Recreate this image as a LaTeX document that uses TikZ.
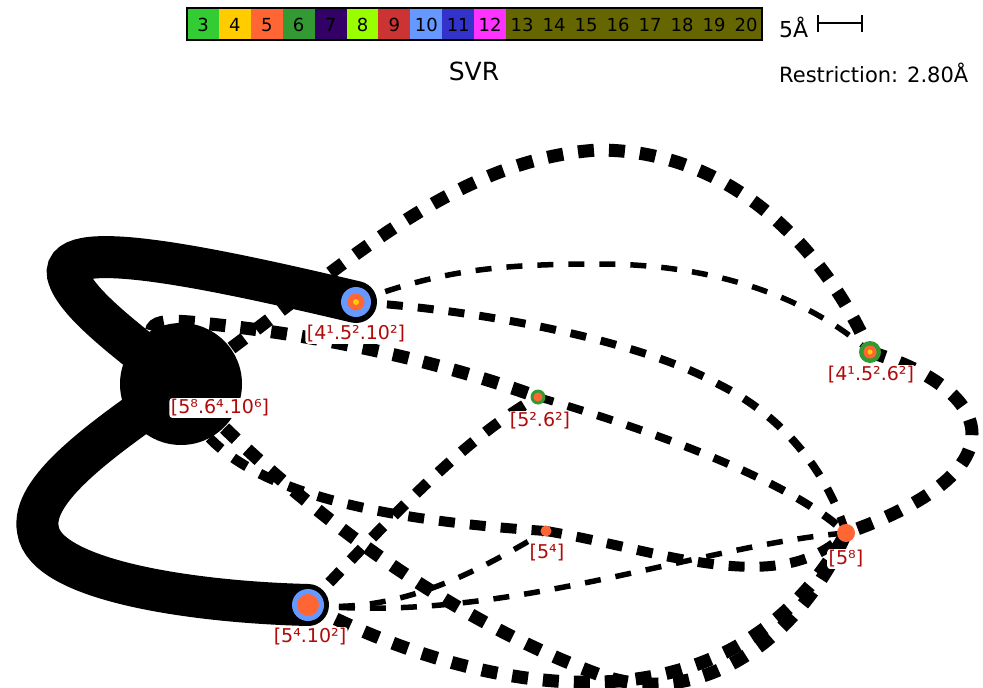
\documentclass[tikz,border=0pt]{standalone}
\usepackage{fontspec}
\setmainfont{DejaVu Sans}
\definecolor{c3}{HTML}{33CC33}
\definecolor{c4}{HTML}{FFCC00}
\definecolor{c5}{HTML}{FF6633}
\definecolor{c6}{HTML}{339933}
\definecolor{c7}{HTML}{330066}
\definecolor{c8}{HTML}{99FF00}
\definecolor{c9}{HTML}{CC3333}
\definecolor{c10}{HTML}{6699FF}
\definecolor{c11}{HTML}{3333CC}
\definecolor{c12}{HTML}{FF33FF}
\definecolor{c13}{HTML}{666600}
\definecolor{labred}{HTML}{B00A0A}
\begin{document}
\begin{tikzpicture}[x=1pt,y=-1pt,
  legtext/.style={font=\fontsize{18}{18}\selectfont, inner sep=0pt},
  thickd/.style={line width=13pt, dash pattern=on 16pt off 15pt},
  medd/.style={line width=10pt, dash pattern=on 16pt off 15pt},
  midd/.style={line width=8pt, dash pattern=on 16pt off 15pt},
  thind/.style={line width=5.5pt, dash pattern=on 16pt off 15pt},
  band/.style={line width=42pt, line cap=round},
  dot/.style={circle, inner sep=0pt, draw=none},
  lbl/.style={font=\fontsize{19}{19}\selectfont, text=labred, fill=white, rounded corners=3pt, inner sep=1.5pt}]
\useasboundingbox (0,0) rectangle (983,688);
\fill[white] (0,0) rectangle (983,688);
% legend
\foreach \n/\c [count=\i from 0] in {3/c3,4/c4,5/c5,6/c6,7/c7,8/c8,9/c9,10/c10,11/c11,12/c12} {
  \fill[\c] (187+31.9*\i,8) rectangle (187+31.9*\i+31.9,40);
  \node[legtext] (leg\n) at (203+31.9*\i,25) {\n};
}
\fill[c13] (506,8) rectangle (762,40);
\foreach \n [count=\i from 0] in {13,14,15,16,17,18,19,20} {
  \node[legtext] (leg\n) at (522+32*\i,25) {\n};
}
\draw[line width=1.3pt] (187,8) rectangle (762,40);
\node[anchor=base west, inner sep=0pt, font=\fontsize{22}{22}\selectfont] (scaletxt) at (779,37) {5Å};
\coordinate (sbL) at (818,23);
\coordinate (sbR) at (862,23);
\draw[line width=1.4pt] (sbL) -- (sbR);
\draw[line width=1.4pt] (818,15) -- (818,32);
\draw[line width=1.4pt] (862,15) -- (862,32);
\node[anchor=base west, inner sep=0pt, font=\fontsize{21}{21}\selectfont] (restr) at (779,82) {Restriction: 2.80Å};
\node[anchor=base, inner sep=0pt, font=\fontsize{25}{25}\selectfont] (title) at (474,80) {SVR};
% node positions
\coordinate (A) at (356,302);
\coordinate (B) at (181,384);
\coordinate (C) at (538,397);
\coordinate (D) at (870,352);
\coordinate (E) at (546,531);
\coordinate (F) at (846,533);
\coordinate (G) at (308,605);
% dashed edges
\draw[thickd] (B) .. controls (320,290) and (440,160) .. (598,150) .. controls (740,150) and (830,260) .. (D);
\draw[thickd] (D) .. controls (995,390) and (1025,470) .. (F);
\draw[thind] (A) .. controls (440,270) and (500,264) .. (600,264) .. controls (700,264) and (800,290) .. (D);
\draw[midd] (A) .. controls (480,310) and (640,340) .. (720,385) .. controls (790,420) and (830,480) .. (F);
\draw[thickd] (B) .. controls (140,330) and (140,318) .. (190,322) .. controls (330,335) and (450,365) .. (C);
\draw[midd] (C) .. controls (650,430) and (790,480) .. (F);
\draw[thickd, line width=11pt] (G) .. controls (380,530) and (460,440) .. (C);
\draw[medd] (B) .. controls (200,490) and (380,520) .. (E);
\draw[medd] (E) .. controls (660,550) and (780,600) .. (F);
\draw[thickd] (B) .. controls (300,510) and (450,620) .. (600,675) .. controls (700,710) and (800,640) .. (F);
\draw[thickd] (G) .. controls (450,680) and (720,760) .. (F);
\draw[thind] (G) .. controls (400,615) and (480,570) .. (E);
\draw[thind] (G) .. controls (500,625) and (700,545) .. (F);
% solid bands
\draw[band] (A) .. controls (220,270) and (60,235) .. (68,275) .. controls (75,305) and (140,350) .. (B);
\draw[band] (B) .. controls (100,440) and (30,490) .. (38,530) .. controls (45,580) and (190,602) .. (G);
\node[dot, fill=black, minimum size=122pt] (Bdot) at (B) {};
% node symbols
\node[dot, fill=c10, minimum size=30pt] (Adot) at (A) {};
\node[dot, fill=c5, minimum size=17pt] (Adot2) at (A) {};
\node[dot, fill=c4, minimum size=6pt] (Adot3) at (A) {};
\node[dot, fill=c6, minimum size=15pt] (Cdot) at (C) {};
\node[dot, fill=c5, minimum size=9pt] (Cdot2) at (C) {};
\node[dot, fill=c6, minimum size=22pt] (Ddot) at (D) {};
\node[dot, fill=c5, minimum size=13pt] (Ddot2) at (D) {};
\node[dot, fill=c4, minimum size=5pt] (Ddot3) at (D) {};
\node[dot, fill=c5, minimum size=11pt] (Edot) at (E) {};
\node[dot, fill=c5, minimum size=18pt] (Fdot) at (F) {};
\node[dot, fill=c10, minimum size=32pt] (Gdot) at (G) {};
\node[dot, fill=c5, minimum size=22pt] (Gdot2) at (G) {};
% labels
\node[lbl] (Alab) at (356,334) {[4¹.5².10²]};
\node[lbl] (Blab) at (220,408) {[5⁸.6⁴.10⁶]};
\node[lbl] (Clab) at (540,421) {[5².6²]};
\node[lbl] (Dlab) at (871,375) {[4¹.5².6²]};
\node[lbl] (Elab) at (547,553) {[5⁴]};
\node[lbl] (Flab) at (846,559) {[5⁸]};
\node[lbl] (Glab) at (310,637) {[5⁴.10²]};
\end{tikzpicture}
\end{document}
